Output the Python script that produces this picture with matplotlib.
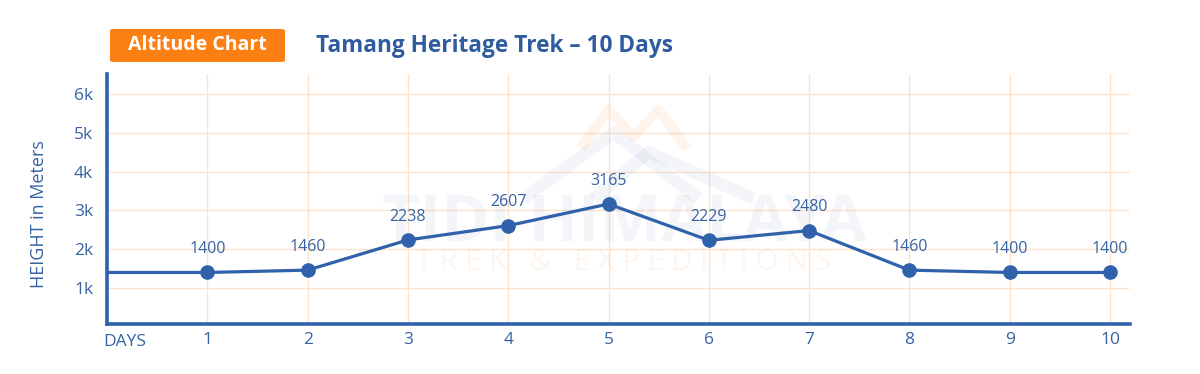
import numpy as np
import matplotlib.pyplot as plt
from matplotlib.patches import FancyBboxPatch
import matplotlib.transforms as mtransforms

#======data=========#
days=[1,2,3,4,5,6,7,8,9,10]
altitude=[1400,1460,2238,2607,3165,2229,2480,1460,1400,1400]
ytick_vals=[1000,2000,3000,4000,5000,6000]
ytick_labels=["1k","2k","3k","4k","5k","6k"]
title="Tamang Heritage Trek \u2013 10 Days"
badge="Altitude Chart"

#=====style==========#
blue="#2f62ab"
txt_blue="#3662a3"
orange="#fb7f12"
grid_c="#fde3cd"
plt.rcParams['font.family']=['Open Sans','DejaVu Sans']

fig=plt.figure(figsize=(12,3.74),dpi=100)
ax=fig.add_axes([0.0892,0.1337,0.8525,0.6684])
ax.set_xlim(0,10.2)
ax.set_ylim(72,6515)

# grid
for y in ytick_vals:
    ax.axhline(y,xmax=10.18/10.2,color=grid_c,lw=1,zorder=0)
for d in days:
    ax.axvline(d,color=grid_c,lw=1,zorder=0)

# faint watermark (logo)
ax.text(0.505,0.40,"TIDI HIMALAYA",transform=ax.transAxes,ha="center",va="center",
        fontsize=47,fontweight="bold",color="#3662a3",alpha=0.06,zorder=1)
ax.text(0.505,0.245,"T R E K   &   E X P E D I T I O N S",transform=ax.transAxes,ha="center",va="center",
        fontsize=21,color=orange,alpha=0.07,zorder=1)
ax.plot([4.15,5.05,5.9],[3300,5000,3300],color="#3662a3",lw=9,alpha=0.06,solid_capstyle="butt",zorder=1)
ax.plot([4.85,5.4,6.45],[3300,4500,3300],color="#3662a3",lw=9,alpha=0.06,solid_capstyle="butt",zorder=1)
ax.plot([4.75,5.0,5.25,5.5,5.75],[4700,5600,4900,5600,4700],color=orange,lw=7,alpha=0.08,zorder=1)

# line, with flat lead-in from the axis
ax.plot([0]+days,[altitude[0]]+altitude,color=blue,lw=2.3,zorder=3)
ax.plot(days,altitude,"o",color=blue,ms=9.5,zorder=4)
for d,a in zip(days,altitude):
    ax.annotate(str(a),(d,a),xytext=(0,14),textcoords="offset points",
                ha="center",va="baseline",fontsize=11.5,color=txt_blue,zorder=5)

# axes
for s in ["top","right"]:
    ax.spines[s].set_visible(False)
for s in ["left","bottom"]:
    ax.spines[s].set_color(blue)
    ax.spines[s].set_linewidth(2.6)
ax.set_xticks(days)
ax.set_xticklabels([str(d) for d in days])
ax.set_yticks(ytick_vals)
ax.set_yticklabels(ytick_labels)
ax.tick_params(axis="both",length=0,labelsize=12.5,labelcolor=txt_blue)
ax.tick_params(axis="y",pad=10)
ax.tick_params(axis="x",pad=6)
trans=mtransforms.blended_transform_factory(ax.transData,ax.transAxes)
ax.text(-0.04,-0.072,"DAYS",transform=trans,ha="left",va="center",fontsize=12.5,color=txt_blue)
ax.set_ylabel("HEIGHT in Meters",fontsize=13,color=txt_blue)
ax.yaxis.set_label_coords(-0.0577,0.44)

# header
box=FancyBboxPatch((110/1200,1-62/374),175/1200,33/374,boxstyle="round,pad=0,rounding_size=0.004",
                   transform=fig.transFigure,facecolor=orange,edgecolor="none")
fig.patches.append(box)
fig.text(197/1200,1-45.5/374,badge,ha="center",va="center",fontsize=14,fontweight="bold",color="white")
fig.text(316/1200,1-46/374,title,ha="left",va="center",fontsize=16.3,fontweight="bold",color="#2f5c9e")

plt.savefig("out.png",dpi=100)
